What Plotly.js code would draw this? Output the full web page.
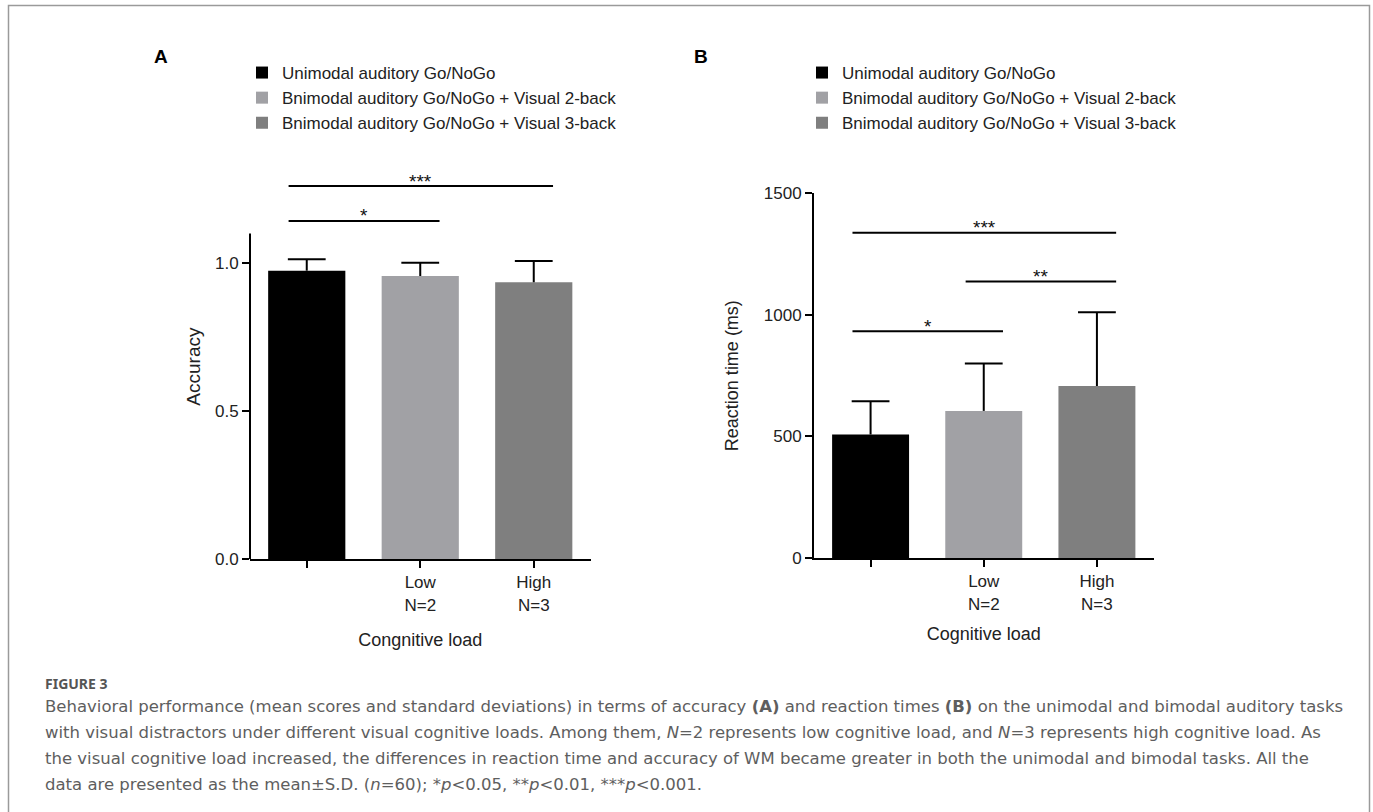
<!DOCTYPE html>
<html>
<head>
<meta charset="utf-8">
<script src="https://cdn.plot.ly/plotly-3.0.1.min.js"></script>
<style>
html,body{margin:0;padding:0;background:#fff;}
#chart{width:1373px;height:812px;}
</style>
</head>
<body>
<div id="chart"></div>
<script>
// ---------------- data ----------------
const seriesNames = [
  'Unimodal auditory Go/NoGo',
  'Bnimodal auditory Go/NoGo + Visual 2-back',
  'Bnimodal auditory Go/NoGo + Visual 3-back'
];
const categoryIndex = [0, 1, 2];
const tickLabels = ['', 'Low<br>N=2', 'High<br>N=3'];

const accuracyMean = [0.974, 0.956, 0.935];
const accuracySD = [0.039, 0.045, 0.072];

const rtMean = [508, 605, 707];
const rtSD = [137, 195, 304];

// significance brackets: [from index, to index, height, label]
const sigAFrom = [0, 0];
const sigATo = [1, 2];
const sigAY = [1.142, 1.26];
const sigALabel = ['*', '***'];

const sigBFrom = [0, 1, 0];
const sigBTo = [1, 2, 2];
const sigBY = [933, 1137, 1338];
const sigBLabel = ['*', '**', '***'];

// ---------------- styles ----------------
const W = 1373, H = 812;
const barColors = ['#000000', '#a1a1a5', '#7f7f7f'];
const FONT = 'Liberation Sans, Arial, sans-serif';
const CAP_FONT = 'DejaVu Sans, Noto Sans, sans-serif';
const px = v => v / W;
const py = v => (H - v) / H;

const traces = [];
function addPanel(means, sds, xa, ya, legendName) {
  for (let i = 0; i < means.length; i++) {
    traces.push({
      type: 'bar',
      x: [categoryIndex[i]],
      y: [means[i]],
      name: seriesNames[i],
      xaxis: xa, yaxis: ya,
      legend: legendName,
      width: 0.68,
      marker: {color: barColors[i], line: {width: 0}},
      error_y: {type: 'data', symmetric: false, array: [sds[i]], arrayminus: [0],
                width: 0, thickness: 2, color: '#000'},
      hoverinfo: 'y'
    });
  }
  // error bar caps
  traces.push({
    type: 'scatter', mode: 'markers',
    x: categoryIndex, y: means.map((m, i) => m + sds[i]),
    xaxis: xa, yaxis: ya, showlegend: false, hoverinfo: 'skip', cliponaxis: false,
    marker: {symbol: 'line-ew', size: 27, color: '#000', line: {width: 2, color: '#000'}}
  });
}
addPanel(accuracyMean, accuracySD, 'x', 'y', 'legend');
addPanel(rtMean, rtSD, 'x2', 'y2', 'legend2');

const shapes = [];
const annotations = [];
function addSig(from, to, ys, labels, xref, yref) {
  for (let i = 0; i < from.length; i++) {
    const x0 = from[i] - 0.16, x1 = to[i] + 0.17;
    shapes.push({type: 'line', xref: xref, yref: yref, x0: x0, x1: x1, y0: ys[i], y1: ys[i],
                 line: {color: '#000', width: 2}});
    annotations.push({xref: xref, yref: yref, x: (x0 + x1) / 2, y: ys[i], text: labels[i],
                      showarrow: false, yanchor: 'middle', yshift: 5,
                      font: {family: FONT, size: 19, color: '#111'}});
  }
}
addSig(sigAFrom, sigATo, sigAY, sigALabel, 'x', 'y');
addSig(sigBFrom, sigBTo, sigBY, sigBLabel, 'x2', 'y2');

// y axis line of panel A (axis stops at 1.10, brackets sit above it)
shapes.push({type: 'line', xref: 'x domain', yref: 'y', x0: 0, x1: 0, y0: 0, y1: 1.10,
             line: {color: '#000', width: 2}});
// figure frame
shapes.push({type: 'rect', xref: 'paper', yref: 'paper', x0: px(8.5), x1: px(1369.5), y0: py(830), y1: py(5.5),
             line: {color: '#9a9a9a', width: 1.5}, fillcolor: 'rgba(0,0,0,0)'});

// panel letters
annotations.push({xref: 'paper', yref: 'paper', x: px(152), y: py(56), yanchor: 'middle', text: '<b>A</b>', showarrow: false,
                  font: {family: FONT, size: 19, color: '#000'}});
annotations.push({xref: 'paper', yref: 'paper', x: px(701), y: py(56), yanchor: 'middle', text: '<b>B</b>', showarrow: false,
                  font: {family: FONT, size: 19, color: '#000'}});

// caption
const captionLines = [
  'Behavioral performance (mean scores and standard deviations) in terms of accuracy <b>(A)</b> and reaction times <b>(B)</b> on the unimodal and bimodal auditory tasks',
  'with visual distractors under different visual cognitive loads. Among them, <i>N</i>=2 represents low cognitive load, and <i>N</i>=3 represents high cognitive load. As',
  'the visual cognitive load increased, the differences in reaction time and accuracy of WM became greater in both the unimodal and bimodal tasks. All the',
  'data are presented as the mean±S.D. (<i>n</i>=60); *<i>p</i>&lt;0.05, **<i>p</i>&lt;0.01, ***<i>p</i>&lt;0.001.'
];
annotations.push({xref: 'paper', yref: 'paper', x: px(43), y: py(683), xanchor: 'left', yanchor: 'middle',
                  text: '<b>FIGURE 3</b>', showarrow: false, font: {family: 'Noto Sans, sans-serif', size: 14, color: '#555'}});
captionLines.forEach((t, i) => {
  annotations.push({xref: 'paper', yref: 'paper', x: px(43), y: py(706 + 26 * i), xanchor: 'left', yanchor: 'middle',
                    text: t, showarrow: false, font: {family: CAP_FONT, size: 16.5, color: '#5e5e5e'}});
});

const tickFont = {family: FONT, size: 17, color: '#222'};
const titleFont = {family: FONT, size: 18, color: '#222'};
const xCommon = {
  range: [-0.5, 2.5], tickvals: categoryIndex, ticktext: tickLabels,
  showline: true, linecolor: '#000', linewidth: 2, ticks: 'outside', ticklen: 7, tickwidth: 2, tickcolor: '#000',
  showgrid: false, zeroline: false, tickfont: tickFont, fixedrange: true
};

const layout = {
  width: W, height: H,
  margin: {l: 0, r: 0, t: 0, b: 0},
  paper_bgcolor: '#fff', plot_bgcolor: 'rgba(0,0,0,0)',
  barmode: 'overlay',
  showlegend: true,
  font: {family: FONT, color: '#222'},
  xaxis: Object.assign({}, xCommon, {domain: [px(250), px(590.5)], anchor: 'y',
    title: {text: 'Congnitive load', font: titleFont, standoff: 20}}),
  yaxis: {domain: [py(559), py(174.2)], range: [0, 1.30], anchor: 'x',
    tickvals: [0, 0.5, 1.0], tickformat: '.1f', showline: false,
    ticks: 'outside', ticklen: 7, tickwidth: 2, tickcolor: '#000',
    showgrid: false, zeroline: false, tickfont: tickFont, fixedrange: true,
    title: {text: 'Accuracy', font: {family: FONT, size: 19, color: '#222'}, standoff: 9}},
  xaxis2: Object.assign({}, xCommon, {domain: [px(814), px(1153.5)], anchor: 'y2',
    title: {text: 'Cognitive load', font: titleFont, standoff: 15}}),
  yaxis2: {domain: [py(558), py(193.3)], range: [0, 1500], anchor: 'x2',
    tickvals: [0, 500, 1000, 1500], showline: true, linecolor: '#000', linewidth: 2,
    ticks: 'outside', ticklen: 7, tickwidth: 2, tickcolor: '#000',
    showgrid: false, zeroline: false, tickfont: tickFont, fixedrange: true,
    title: {text: 'Reaction time (ms)', font: titleFont, standoff: 20}},
  legend: {x: px(242), y: py(55), xanchor: 'left', yanchor: 'top', bgcolor: 'rgba(0,0,0,0)',
    font: {family: FONT, size: 17, color: '#222'}, itemclick: false, itemdoubleclick: false},
  legend2: {x: px(802), y: py(55), xanchor: 'left', yanchor: 'top', bgcolor: 'rgba(0,0,0,0)',
    font: {family: FONT, size: 17, color: '#222'}, itemclick: false, itemdoubleclick: false},
  shapes: shapes,
  annotations: annotations
};

Plotly.newPlot('chart', traces, layout, {displayModeBar: false, staticPlot: false, responsive: false});
</script>
</body>
</html>
